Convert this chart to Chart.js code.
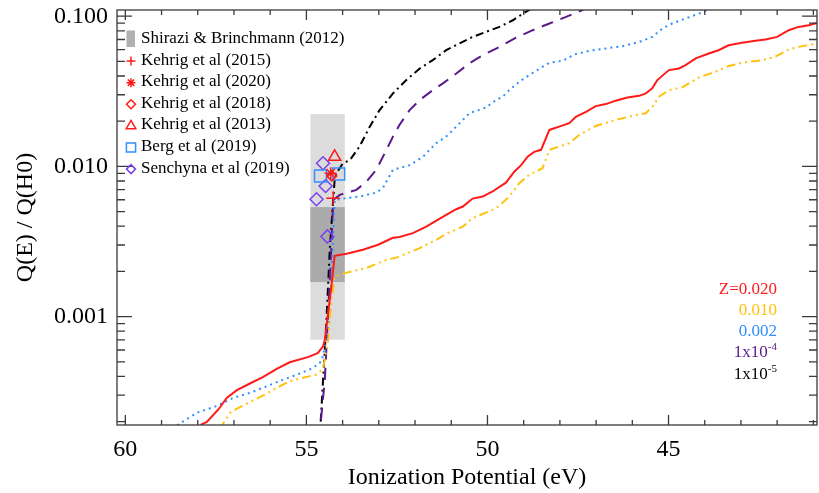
<!DOCTYPE html>
<html>
<head>
<meta charset="utf-8">
<script src="https://cdn.jsdelivr.net/npm/chart.js@4.4.0/dist/chart.umd.min.js"></script>
<style>
  html, body { margin: 0; padding: 0; background: #fff; }
  #wrap { width: 819px; height: 493px; position: relative; }
</style>
</head>
<body>
<div id="wrap"><canvas id="chart"></canvas></div>
<script>
// ionizing photon ratio curves (x = eV, y = Q(E)/Q(H0))
const redX = [57.96, 57.89, 57.75, 57.43, 57.20, 56.92, 56.56, 56.19, 55.82, 55.46, 54.94, 54.68, 54.54, 54.49, 54.31, 54.22, 53.89, 53.44, 53.02, 52.61, 52.43, 52.06, 51.69, 51.41, 51.14, 50.86, 50.68, 50.41, 50.13, 49.86, 49.49, 49.26, 49.07, 48.89, 48.71, 48.52, 48.29, 48.02, 47.74, 47.56, 47.28, 47.01, 46.73, 46.46, 46.14, 45.81, 45.63, 45.45, 45.31, 44.99, 44.71, 44.53, 44.25, 43.89, 43.62, 43.34, 42.97, 42.60, 42.32, 42.00, 41.68, 41.41, 41.13, 40.90];
const redY = [1.77e-4, 1.92e-4, 1.99e-4, 2.41e-4, 2.88e-4, 3.24e-4, 3.59e-4, 3.97e-4, 4.49e-4, 4.97e-4, 5.40e-4, 5.74e-4, 6.35e-4, 7.03e-4, 1.59e-3, 2.54e-3, 2.62e-3, 2.79e-3, 3.01e-3, 3.35e-3, 3.39e-3, 3.60e-3, 3.98e-3, 4.36e-3, 4.76e-3, 5.19e-3, 5.41e-3, 6.11e-3, 6.30e-3, 6.81e-3, 7.80e-3, 9.23e-3, 1.02e-2, 1.16e-2, 1.25e-2, 1.29e-2, 1.75e-2, 1.84e-2, 1.94e-2, 2.14e-2, 2.31e-2, 2.52e-2, 2.60e-2, 2.74e-2, 2.88e-2, 2.95e-2, 3.06e-2, 3.31e-2, 3.76e-2, 4.38e-2, 4.49e-2, 4.72e-2, 5.24e-2, 5.65e-2, 5.94e-2, 6.41e-2, 6.65e-2, 6.86e-2, 7.00e-2, 7.28e-2, 8.07e-2, 8.49e-2, 8.71e-2, 9.02e-2];

const goldX = [57.39, 57.31, 57.11, 56.92, 56.56, 56.19, 55.82, 55.46, 55.09, 54.72, 54.54, 54.40, 54.31, 54.22, 53.94, 53.34, 52.79, 52.47, 51.87, 51.41, 51.14, 50.68, 50.41, 49.86, 49.67, 49.40, 49.12, 48.85, 48.48, 48.29, 47.74, 47.47, 47.01, 46.46, 46.00, 45.63, 45.45, 45.26, 44.99, 44.62, 44.16, 43.70, 43.34, 42.97, 42.42, 42.05, 41.68, 41.41, 40.90];
const goldY = [1.77e-4, 1.92e-4, 2.29e-4, 2.44e-4, 2.70e-4, 2.99e-4, 3.36e-4, 3.72e-4, 3.92e-4, 4.12e-4, 4.49e-4, 7.03e-4, 1.30e-3, 1.84e-3, 1.95e-3, 2.11e-3, 2.39e-3, 2.49e-3, 2.86e-3, 3.25e-3, 3.56e-3, 3.98e-3, 4.53e-3, 5.14e-3, 5.47e-3, 6.30e-3, 7.73e-3, 8.79e-3, 9.73e-3, 1.29e-2, 1.43e-2, 1.62e-2, 1.86e-2, 2.04e-2, 2.17e-2, 2.26e-2, 2.49e-2, 2.91e-2, 3.22e-2, 3.36e-2, 3.92e-2, 4.27e-2, 4.66e-2, 4.90e-2, 5.10e-2, 5.37e-2, 6.01e-2, 6.25e-2, 6.59e-2];

const blueX = [58.71, 58.53, 58.03, 57.48, 57.02, 56.56, 56.10, 55.64, 55.18, 54.81, 54.58, 54.45, 54.35, 54.31, 54.22, 53.89, 53.53, 53.07, 52.89, 52.61, 52.15, 51.78, 51.60, 51.41, 51.14, 50.86, 50.50, 50.04, 49.76, 49.58, 49.40, 49.12, 48.85, 48.66, 48.29, 47.93, 47.56, 47.10, 46.73, 46.27, 45.81, 45.45, 45.17, 44.90, 44.53, 44.16, 43.93, 43.72];
const blueY = [1.80e-4, 1.92e-4, 2.29e-4, 2.54e-4, 2.88e-4, 3.11e-4, 3.44e-4, 3.81e-4, 4.18e-4, 4.56e-4, 5.05e-4, 7.03e-4, 1.06e-3, 1.76e-3, 5.98e-3, 6.15e-3, 6.30e-3, 6.70e-3, 7.16e-3, 9.49e-3, 1.02e-2, 1.16e-2, 1.29e-2, 1.43e-2, 1.58e-2, 1.84e-2, 2.26e-2, 2.47e-2, 2.77e-2, 2.91e-2, 3.22e-2, 3.66e-2, 4.05e-2, 4.33e-2, 4.90e-2, 5.05e-2, 5.60e-2, 5.94e-2, 6.10e-2, 6.32e-2, 6.74e-2, 7.28e-2, 8.28e-2, 8.94e-2, 9.66e-2, 0.104, 0.110, 0.117];

const purpleX = [54.63, 54.61, 54.49, 54.40, 54.31, 54.26, 54.08, 53.62, 53.34, 53.07, 52.79, 52.61, 52.43, 52.15, 51.87, 51.51, 51.23, 50.86, 50.50, 50.13, 49.67, 49.21, 48.75, 48.29, 47.83, 47.38, 47.05];
const purpleY = [1.52e-4, 1.92e-4, 3.81e-4, 1.06e-3, 2.93e-3, 5.98e-3, 6.47e-3, 6.98e-3, 7.93e-3, 9.49e-3, 1.29e-2, 1.58e-2, 1.89e-2, 2.37e-2, 2.77e-2, 3.22e-2, 3.57e-2, 4.16e-2, 4.85e-2, 5.51e-2, 6.25e-2, 7.19e-2, 8.07e-2, 8.94e-2, 9.89e-2, 0.110, 0.118];

const blackX = [54.63, 54.61, 54.45, 54.35, 54.26, 54.22, 54.17, 53.99, 53.80, 53.53, 53.25, 52.98, 52.61, 52.24, 51.87, 51.51, 51.14, 50.77, 50.41, 50.04, 49.67, 49.30, 48.94, 48.71];
const blackY = [1.52e-4, 1.92e-4, 9.08e-4, 2.93e-3, 5.98e-3, 8.13e-3, 9.02e-3, 1.05e-2, 1.10e-2, 1.36e-2, 1.84e-2, 2.37e-2, 3.06e-2, 3.76e-2, 4.49e-2, 5.10e-2, 5.94e-2, 6.59e-2, 7.28e-2, 7.87e-2, 8.49e-2, 9.40e-2, 0.107, 0.115];

// observations
const k2015 = [[54.26, 6.15e-3]];
const k2020 = [[54.33, 9.02e-3]];
const k2018 = [[54.30, 8.65e-3]];
const k2013 = [[54.22, 1.16e-2]];
const berg2019 = [[54.61, 8.65e-3], [54.11, 8.91e-3]];
const senchyna2019 = [[54.54, 1.05e-2], [54.47, 7.41e-3], [54.72, 6.05e-3], [54.42, 3.42e-3]];

// Shirazi & Brinchmann (2012) range boxes
const shiraziX = [54.89, 53.94];
const shiraziOuterY = [7.03e-4, 2.23e-2];
const shiraziInnerY = [1.70e-3, 5.36e-3];

const xTickVals = [60, 55, 50, 45];
const yTickVals = [0.001, 0.01, 0.1];
const yTickLabels = ['0.001', '0.010', '0.100'];

const zLabels = ['Z=0.020', '0.010', '0.002', '1x10', '1x10'];
const zSup = ['', '', '', '-4', '-5'];

const SERIF = "'Liberation Serif', 'Times New Roman', serif";
const RED = '#ff1a1a', GOLD = '#ffc20e', BLUE = '#2f8fff', PURPLE = '#5a1a8c', VIOLET = '#7b3ff0';

const pts = (xs, ys) => xs.map((x, i) => ({ x: x, y: ys[i] }));
const obs = arr => arr.map(p => ({ x: p[0], y: p[1] }));

function curve(xs, ys, color, dash) {
  return {
    type: 'line', data: pts(xs, ys), borderColor: color, borderWidth: 2,
    borderDash: dash, pointRadius: 0, tension: 0, fill: false
  };
}
function marks(arr, style, color, r) {
  return {
    type: 'line', data: obs(arr), showLine: false, pointStyle: style,
    pointRadius: r, pointBorderColor: color, pointBackgroundColor: 'rgba(0,0,0,0)',
    pointBorderWidth: 1.5, borderColor: color
  };
}

const boxes = {
  id: 'boxes',
  beforeDatasetsDraw(chart) {
    const { ctx, scales: { x, y } } = chart;
    const x0 = x.getPixelForValue(shiraziX[0]), x1 = x.getPixelForValue(shiraziX[1]);
    ctx.save();
    ctx.fillStyle = '#dcdcdc';
    let t = y.getPixelForValue(shiraziOuterY[1]), b = y.getPixelForValue(shiraziOuterY[0]);
    ctx.fillRect(x0, t, x1 - x0, b - t);
    ctx.fillStyle = '#ababab';
    t = y.getPixelForValue(shiraziInnerY[1]); b = y.getPixelForValue(shiraziInnerY[0]);
    ctx.fillRect(x0, t, x1 - x0, b - t);
    ctx.restore();
  }
};

const frame = {
  id: 'frame',
  afterDatasetsDraw(chart) {
    const { ctx, chartArea: a, scales: { x, y } } = chart;
    ctx.save();
    ctx.strokeStyle = '#3a3a3a';
    ctx.lineWidth = 1.3;
    ctx.strokeRect(a.left, a.top, a.right - a.left, a.bottom - a.top);
    ctx.beginPath();
    for (let v = 41; v <= 60; v++) {
      const px = x.getPixelForValue(v);
      const len = v % 5 === 0 ? 10 : 5;
      ctx.moveTo(px, a.bottom); ctx.lineTo(px, a.bottom - len);
      ctx.moveTo(px, a.top); ctx.lineTo(px, a.top + len);
    }
    for (let d = -4; d <= -1; d++) {
      for (let k = 1; k <= 9; k++) {
        const v = k * Math.pow(10, d);
        if (v < y.min || v > y.max) continue;
        const py = y.getPixelForValue(v);
        const len = k === 1 ? 15 : 8;
        ctx.moveTo(a.left, py); ctx.lineTo(a.left + len, py);
        ctx.moveTo(a.right, py); ctx.lineTo(a.right - len, py);
      }
    }
    ctx.stroke();
    ctx.restore();
  }
};

const annot = {
  id: 'annot',
  afterDraw(chart) {
    const ctx = chart.ctx;
    const H = Chart.helpers;
    ctx.save();
    // legend
    const rows = [
      { label: 'Shirazi & Brinchmann (2012)' },
      { label: 'Kehrig et al (2015)', style: 'cross', color: RED, r: 4.5 },
      { label: 'Kehrig et al (2020)', style: 'star', color: RED, r: 4.5 },
      { label: 'Kehrig et al (2018)', style: 'rectRot', color: RED, r: 4.5 },
      { label: 'Kehrig et al (2013)', style: 'triangle', color: RED, r: 5.5 },
      { label: 'Berg et al (2019)', style: 'rect', color: BLUE, r: 6.5 },
      { label: 'Senchyna et al (2019)', style: 'rectRot', color: VIOLET, r: 4.5 }
    ];
    ctx.font = '17px ' + SERIF;
    ctx.textBaseline = 'middle';
    ctx.textAlign = 'left';
    rows.forEach((row, i) => {
      const cy = 38.5 + i * 21.6;
      if (!row.style) {
        ctx.fillStyle = '#b0b0b0';
        ctx.fillRect(126.5, cy - 8, 8.5, 16.5);
      } else {
        ctx.strokeStyle = row.color;
        ctx.fillStyle = 'rgba(0,0,0,0)';
        ctx.lineWidth = 1.5;
        H.drawPoint(ctx, { pointStyle: row.style, radius: row.r, rotation: 0, borderWidth: 1.5 }, 131, cy + 1);
      }
      ctx.fillStyle = '#000';
      ctx.fillText(row.label, 141, cy);
    });
    // metallicity labels
    const zColors = [RED, GOLD, BLUE, PURPLE, '#000'];
    const base = [294, 315, 336, 357, 379];
    const right = 777;
    ctx.textBaseline = 'alphabetic';
    zLabels.forEach((lab, i) => {
      ctx.font = '17px ' + SERIF;
      const w1 = ctx.measureText(lab).width;
      ctx.font = '11px ' + SERIF;
      const w2 = zSup[i] ? ctx.measureText(zSup[i]).width : 0;
      ctx.fillStyle = zColors[i];
      ctx.font = '17px ' + SERIF;
      ctx.fillText(lab, right - w1 - w2, base[i]);
      if (zSup[i]) {
        ctx.font = '11px ' + SERIF;
        ctx.fillText(zSup[i], right - w2, base[i] - 7);
      }
    });
    ctx.restore();
  }
};

new Chart(document.getElementById('chart'), {
  data: {
    datasets: [
      marks(k2013, 'triangle', RED, 7),
      marks(k2020, 'star', RED, 6),
      marks(k2018, 'rectRot', RED, 5),
      marks(k2015, 'cross', RED, 7),
      marks(berg2019, 'rect', BLUE, 8.5),
      marks(senchyna2019, 'rectRot', VIOLET, 6.5),
      curve(redX, redY, RED, []),
      curve(goldX, goldY, GOLD, [9, 4, 2, 4, 2, 4]),
      curve(blueX, blueY, BLUE, [2, 4]),
      curve(purpleX, purpleY, PURPLE, [12, 8]),
      curve(blackX, blackY, '#000', [8, 4, 2, 4])
    ]
  },
  options: {
    responsive: true,
    maintainAspectRatio: false,
    animation: false,
    devicePixelRatio: 1,
    layout: { autoPadding: false, padding: { left: 0, right: 2, top: 10, bottom: 0 } },
    plugins: { legend: { display: false }, tooltip: { enabled: false } },
    scales: {
      x: {
        type: 'linear', reverse: true, min: 40.9, max: 60.23,
        afterBuildTicks: s => { s.ticks = xTickVals.map(v => ({ value: v })); },
        afterFit: s => { s.height = 68; s.paddingLeft = 0; s.paddingRight = 0; },
        grid: { display: false, drawTicks: false },
        border: { display: false },
        ticks: { color: '#000', font: { family: SERIF, size: 24 }, padding: 10, maxRotation: 0 },
        title: { display: true, text: 'Ionization Potential (eV)', color: '#000', font: { family: SERIF, size: 24 }, padding: { top: 0, bottom: 1 } }
      },
      y: {
        type: 'logarithmic', min: 0.00019, max: 0.11,
        afterBuildTicks: s => { s.ticks = yTickVals.map(v => ({ value: v })); },
        afterFit: s => { s.width = 117; s.paddingTop = 0; s.paddingBottom = 0; },
        grid: { display: false, drawTicks: false },
        border: { display: false },
        ticks: { color: '#000', font: { family: SERIF, size: 24 }, padding: 9,
          callback: v => yTickLabels[yTickVals.indexOf(v)] },
        title: { display: true, text: 'Q(E) / Q(H0)', color: '#000', font: { family: SERIF, size: 24 }, padding: { top: 11, bottom: 0 } }
      }
    }
  },
  plugins: [boxes, frame, annot]
});
</script>
</body>
</html>
